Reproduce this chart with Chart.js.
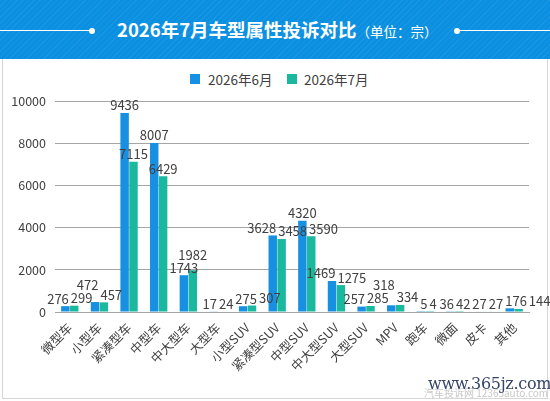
<!DOCTYPE html>
<html><head><meta charset="utf-8">
<script src="https://cdn.jsdelivr.net/npm/chart.js@4/dist/chart.umd.min.js"></script>
<style>
html,body{margin:0;padding:0;background:#fff;width:550px;height:401px;overflow:hidden;font-family:"Noto Sans CJK SC","Noto Sans",sans-serif;}
#hdr{position:absolute;left:0;top:0;width:550px;height:59px;background:#0b8fe0;
background-image:repeating-linear-gradient(135deg,rgba(255,255,255,0.06) 0 1px,rgba(255,255,255,0) 1px 4px);}
#hdr .t{position:absolute;left:117px;top:16px;color:#fff;white-space:nowrap;line-height:26px;}
#hdr .t b{font-size:18.5px;font-weight:700}
#hdr .t span{font-size:13.5px;font-weight:400}
.ln{position:absolute;top:30px;height:1px;background:#fff}
.dot{position:absolute;top:27.5px;width:6px;height:6px;border-radius:3px;background:#fff}
#panel{position:absolute;left:2px;top:59px;width:544px;height:339px;border:1px solid #d6d6d6;border-top:none;}
#wrap{position:absolute;left:0;top:60px;width:550px;height:338px;}
#leg{position:absolute;top:70px;left:0;width:550px;height:18px;font-size:13.5px;color:#404040;}
#leg .b{position:absolute;top:4px;width:10px;height:10px}
#leg .s{position:absolute;top:0;line-height:18px;white-space:nowrap}
#wm{position:absolute;left:428px;top:374px;font-family:"DejaVu Serif",serif;font-size:16px;color:#36456a;letter-spacing:-0.3px;
text-shadow:0 0 1px #fff;}
#wm2{position:absolute;left:424px;top:385px;font-size:10px;color:#c8c8c8;white-space:nowrap}
</style></head>
<body>
<div id="hdr">
  <div class="ln" style="left:0;width:90px"></div><div class="dot" style="left:89px"></div>
  <div class="t"><b>2026年7月车型属性投诉对比</b><span>（单位：宗）</span></div>
  <div class="dot" style="left:454px"></div><div class="ln" style="left:457px;width:93px"></div>
</div>
<div id="panel"></div>
<div id="leg"></div>
<div id="wrap"><canvas id="c"></canvas></div>
<div id="wm2">汽车投诉网 12365auto.com</div>
<div id="wm">www.365jz.com</div>
<script>
const categories = ["微型车","小型车","紧凑型车","中型车","中大型车","大型车","小型SUV","紧凑型SUV","中型SUV","中大型SUV","大型SUV","MPV","跑车","微面","皮卡","其他"];
const june = [276,472,9436,8007,1743,17,275,3628,4320,1469,257,318,5,36,27,176];
const july = [299,457,7115,6429,1982,24,307,3458,3590,1275,285,334,4,42,27,144];
const seriesNames = ["2026年6月","2026年7月"];
const seriesColors = ['#1890e2','#19b89f'];
const yTicks = [0,2000,4000,6000,8000,10000];

// HTML legend
(function(){
  const leg = document.getElementById('leg');
  const pos = [[190,208],[287,304]];
  seriesNames.forEach((n,i)=>{
    const b=document.createElement('div');b.className='b';b.style.left=pos[i][0]+'px';b.style.background=seriesColors[i];leg.appendChild(b);
    const s=document.createElement('div');s.className='s';s.style.left=pos[i][1]+'px';s.textContent=n;leg.appendChild(s);
  });
})();

const FONT = '"Noto Sans CJK SC","Noto Sans",sans-serif';
const valueLabels = {
  id:'valueLabels',
  afterDatasetsDraw(chart){
    const ctx = chart.ctx;
    ctx.save();
    ctx.font = '13px ' + FONT;
    ctx.fillStyle = '#404040';
    ctx.textAlign = 'center';
    ctx.textBaseline = 'bottom';
    const H = 13, GAP = 2, MAXSHIFT = 15;
    const n = chart.data.labels.length;
    const m0 = chart.getDatasetMeta(0), m1 = chart.getDatasetMeta(1);
    const items = [];
    for(let j=0;j<n;j++){
      const a = {t:String(chart.data.datasets[0].data[j]), x:m0.data[j].x, b:m0.data[j].y-1};
      const c = {t:String(chart.data.datasets[1].data[j]), x:m1.data[j].x, b:m1.data[j].y-1};
      a.w = ctx.measureText(a.t).width; c.w = ctx.measureText(c.t).width;
      const need = (a.w+c.w)/2 + GAP;
      if((c.x-a.x) < need){
        if(c.b < a.b - 3 && c.b > a.b - H){ c.b = a.b - H; }
        else if(Math.abs(a.b-c.b) < H){
          const d = need-(c.x-a.x);
          a.x -= d/2; c.x += d/2;
        }
      }
      items.push(a,c);
    }
    const placed = [];
    const hit=(p,q)=> Math.abs(p.x-q.x) < (p.w+q.w)/2 && Math.abs(p.b-q.b) < H;
    items.forEach(it=>{
      for(let guard=0; guard<30; guard++){
        const p = placed.find(q=>hit(it,q));
        if(!p) break;
        const dx = (p.w+it.w)/2 + GAP - (it.x - p.x);
        if(dx <= MAXSHIFT){ it.x += dx; } else { it.b = p.b - H; }
      }
      placed.push(it);
      ctx.fillText(it.t, it.x, it.b);
    });
    ctx.restore();
  }
};

new Chart(document.getElementById('c'),{
  type:'bar',
  data:{
    labels:categories,
    datasets:[
      {label:seriesNames[0],data:june,backgroundColor:seriesColors[0],categoryPercentage:0.6,barPercentage:0.95},
      {label:seriesNames[1],data:july,backgroundColor:seriesColors[1],categoryPercentage:0.6,barPercentage:0.95}
    ]
  },
  options:{
    responsive:true,maintainAspectRatio:false,animation:false,
    layout:{padding:{left:9,right:21,top:41,bottom:0}},
    plugins:{legend:{display:false},tooltip:{enabled:false}},
    scales:{
      x:{grid:{display:false,drawTicks:false},border:{color:'#a6a6a6'},
         afterFit(s){s.height=86;},
         ticks:{color:'#404040',font:{family:FONT,size:12.5},maxRotation:45,minRotation:45,autoSkip:false,padding:8}},
      y:{min:0,max:10000,afterBuildTicks(a){a.ticks=yTicks.map(v=>({value:v}));},
         afterFit(s){s.width=46;},
         grid:{color:'#a6a6a6',drawTicks:false},border:{display:false},
         ticks:{color:'#404040',font:{family:FONT,size:12.5},padding:9,callback:v=>String(v)}}
    }
  },
  plugins:[valueLabels]
});
</script>
</body></html>
